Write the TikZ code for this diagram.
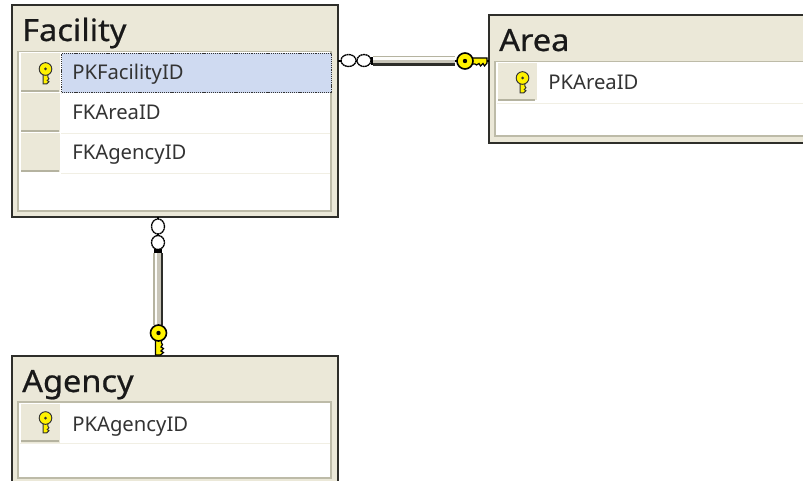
\documentclass[tikz,border=0pt]{standalone}
\usepackage{fontspec}
\setmainfont{Noto Sans}
\newfontfamily\titlefont[FakeStretch=1.06,FakeBold=0.6]{Noto Sans}
\definecolor{panel}{HTML}{EBE8D8}
\definecolor{edge}{HTML}{2E2E2A}
\definecolor{inner}{HTML}{BDBBA8}
\definecolor{sep}{HTML}{F1EFE4}
\definecolor{hand}{HTML}{B5B3A0}
\definecolor{sel}{HTML}{CFDAF1}
\definecolor{keyy}{HTML}{FFF200}
\tikzset{
  x=0.75pt,y=-0.75pt,
  tablebox/.style={draw=edge,line width=1.5pt,fill=panel,anchor=north west,inner sep=0pt,outer sep=0pt},
  innerbox/.style={draw=inner,line width=1.4pt,fill=white,anchor=north west,inner sep=0pt,outer sep=0pt},
  handlecell/.style={fill=panel,anchor=north west,inner sep=0pt,outer sep=0pt,minimum width=29.5pt,minimum height=29pt},
  selcell/.style={fill=sel,draw=black!80,dash pattern=on 0.9pt off 0.7pt,line width=0.9pt,anchor=north west,inner sep=0pt,outer sep=0pt,minimum width=202.5pt,minimum height=29.5pt},
  titletext/.style={anchor=base west,inner sep=0pt,font=\titlefont\fontsize{23pt}{25pt}\selectfont,text=black!90},
  rowtext/.style={anchor=base west,inner sep=0pt,font=\fontsize{15.2pt}{17pt}\selectfont,text=black!80},
  thinlink/.style={draw=black,line width=0.8pt},
  crow/.style={draw=black,line width=1pt,dash pattern=on 1.5pt off 0.35pt,fill=white},
  pics/smallkey/.style={code={
    \draw[black!80,fill=keyy,line width=0.7pt,scale=1.15] (-2,5) -- (-2,13) -- (1,13) -- (3,11) -- (1.5,10) -- (3,8.5) -- (2,7) -- (2,5) -- cycle;
    \draw[black!80,fill=keyy,line width=0.7pt,scale=1.15] (0,0) circle[radius=5.5];
    \fill[black!80] (0,0) circle[radius=1.5];
  }},
  pics/bigkey/.style={code={
    \draw[black,fill=keyy,line width=0.9pt] (-3,6) -- (-3,22) -- (2,22) -- (5,19.5) -- (2.5,18) -- (5,15.5) -- (2.5,14) -- (4,11.5) -- (3,10) -- (3,6) -- cycle;
    \draw[black,fill=keyy,line width=1.2pt] (0,0) circle[radius=8];
    \fill[black] (0,0) circle[radius=2.2];
  }},
}
\begin{document}
\begin{tikzpicture}
\useasboundingbox (0,0) rectangle (803,481);
\clip (0,0) rectangle (803,481);
\fill[white] (0,0) rectangle (803,481);

% Facility
\node[tablebox,minimum width=244.5pt,minimum height=159pt] (facility) at (12,5) {};
\node[titletext] (facilitytitle) at (22,41) {Facility};
\node[innerbox,minimum width=235pt,minimum height=119.5pt] (facilityinner) at (18,51.5) {};
\node[handlecell] (fh1) at (21,53) {};
\node[handlecell] (fh2) at (21,93.5) {};
\node[handlecell] (fh3) at (21,133.5) {};
\node[selcell] (fsel) at (61.5,53.5) {};
\draw[hand,line width=1.9pt] (21,91) -- (59,91) (21,131) -- (59,131) (21,171) -- (59,171);
\draw[sep,line width=1pt] (61,133.5) -- (330,133.5) (61,173.5) -- (330,173.5);
\pic at (45.5,69) {smallkey};
\node[rowtext] (f1) at (72,80) {PKFacilityID};
\node[rowtext] (f2) at (72,120) {FKAreaID};
\node[rowtext] (f3) at (72,160) {FKAgencyID};

% Area
\node[tablebox,minimum width=262pt,minimum height=96pt] (area) at (489,15) {};
\node[titletext] (areatitle) at (499,51) {Area};
\node[innerbox,minimum width=255pt,minimum height=56pt] (areainner) at (495,61.5) {};
\node[handlecell,minimum height=28pt] (ah1) at (497.5,63) {};
\draw[hand,line width=1.9pt] (498,100) -- (535,100);
\draw[sep,line width=1pt] (497,103.5) -- (803,103.5);
\pic at (522.5,78) {smallkey};
\node[rowtext] (a1) at (548,90) {PKAreaID};

% Agency
\node[tablebox,minimum width=244.5pt,minimum height=110pt] (agency) at (12,356) {};
\node[titletext] (agencytitle) at (22,392) {Agency};
\node[innerbox,minimum width=235pt,minimum height=57pt] (agencyinner) at (18,402) {};
\node[handlecell] (gh1) at (21,404) {};
\draw[hand,line width=1.9pt] (21,441) -- (59,441);
\draw[sep,line width=1pt] (20,443.5) -- (330,443.5);
\pic at (45.5,418) {smallkey};
\node[rowtext] (g1) at (72,431) {PKAgencyID};

% Facility -- Area
\coordinate (hs) at (facility.east |- 0,61);
\coordinate (he) at (area.west |- 0,61);
\draw[thinlink] (hs) -- (he);
\draw[crow] (348.5,60.5) ellipse[x radius=7.5,y radius=6];
\draw[crow] (364,60.5) ellipse[x radius=7,y radius=6];
\fill[black] (371,57) rectangle (374,65);
\fill[hand] (373,56) rectangle (455,57.5);
\fill[white!90!panel] (373,57.5) rectangle (455,60);
\fill[panel!85!black] (373,60) rectangle (455,63.5);
\fill[edge] (373,63.5) rectangle (455,66);
\pic[rotate=90,xscale=-1] at (465,61) {bigkey};

% Facility -- Agency
\coordinate (vs) at (158,217);
\coordinate (ve) at (158,355);
\draw[thinlink] (vs) -- (ve);
\draw[crow] (158,226.5) ellipse[x radius=6.5,y radius=7.5];
\draw[crow] (158,242.5) ellipse[x radius=6.5,y radius=7];
\fill[black] (154,249) rectangle (162,253);
\fill[hand] (153,253) rectangle (154.5,325);
\fill[white!90!panel] (154.5,253) rectangle (157,325);
\fill[panel!85!black] (157,253) rectangle (161,325);
\fill[edge] (161,253) rectangle (163,325);
\pic at (158.5,333) {bigkey};
\end{tikzpicture}
\end{document}
